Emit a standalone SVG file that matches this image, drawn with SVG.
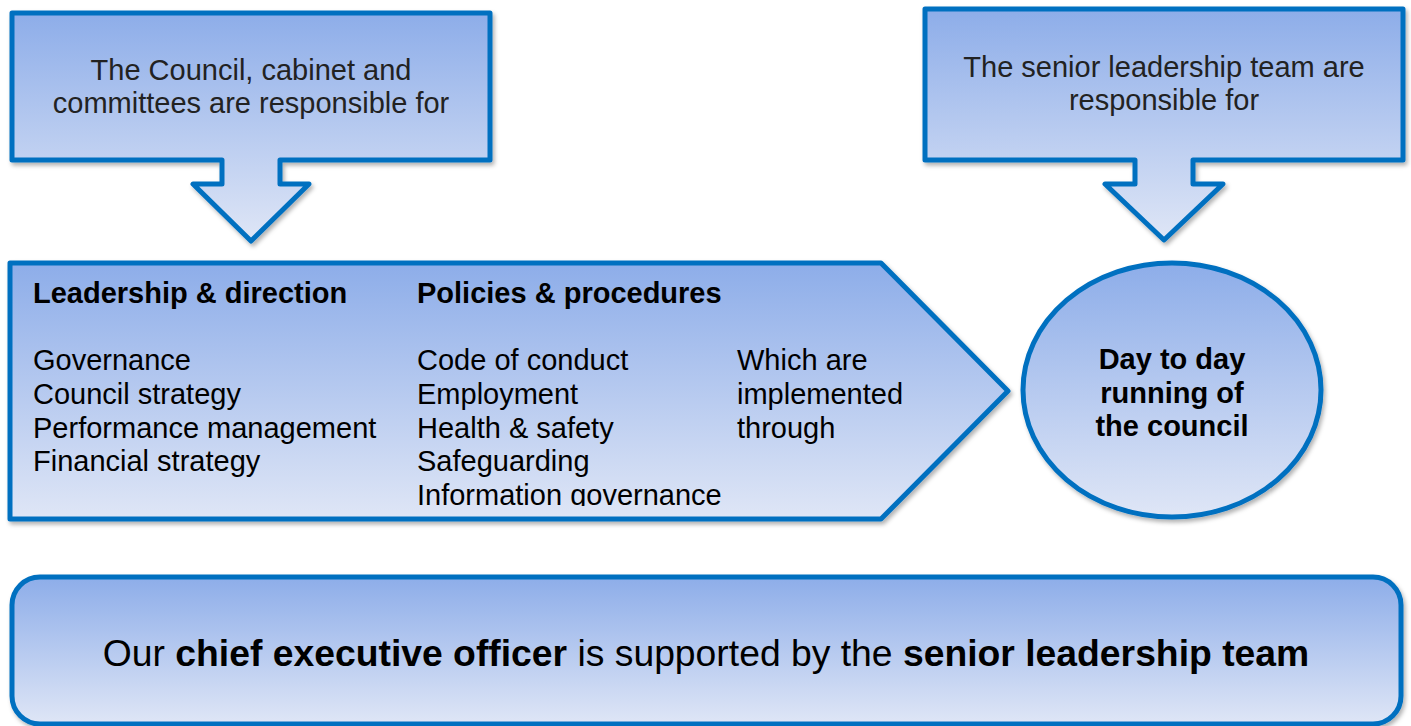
<svg xmlns="http://www.w3.org/2000/svg" width="1411" height="726" viewBox="0 0 1411 726">
  <defs>
    <linearGradient id="blueFill" x1="0" y1="0" x2="0" y2="1">
      <stop offset="0" stop-color="#8DADE9"/>
      <stop offset="1" stop-color="#DFE6F6"/>
    </linearGradient>
    <filter id="shadow" x="-5%" y="-5%" width="110%" height="115%">
      <feDropShadow dx="2" dy="3" stdDeviation="2" flood-color="#000" flood-opacity="0.3"/>
    </filter>
    <clipPath id="pentagonText">
      <rect x="10" y="263" width="1000" height="243"/>
    </clipPath>
  </defs>
  <style>
    .shape { fill: url(#blueFill); stroke: #0070C0; stroke-width: 5; stroke-linejoin: round; filter: url(#shadow); }
    .callout { font-family: "Liberation Sans", Arial, sans-serif; font-size: 29px; fill: #222; text-anchor: middle; }
    .body { font-family: "Liberation Sans", Arial, sans-serif; font-size: 29px; fill: #000; }
    .bold { font-weight: bold; }
    .centre { text-anchor: middle; }
  </style>

  <rect width="1411" height="726" fill="#fff"/>

  <!-- Council, cabinet and committees: box with a down arrow -->
  <g id="council-callout">
    <path class="shape" d="M12,13 H490 V160 H280 V184 H309 L251,241 L193,184 H222 V160 H12 Z"/>
    <text class="callout" x="251" y="80">The Council, cabinet and</text>
    <text class="callout" x="251" y="113">committees are responsible for</text>
  </g>

  <!-- Senior leadership team: box with a down arrow -->
  <g id="slt-callout">
    <path class="shape" d="M925,9 H1403 V160 H1193 V184 H1223 L1164,240 L1105,184 H1135 V160 H925 Z"/>
    <text class="callout" x="1164" y="77">The senior leadership team are</text>
    <text class="callout" x="1164" y="110">responsible for</text>
  </g>

  <!-- Pentagon arrow listing leadership and policy areas -->
  <g id="responsibilities">
    <path class="shape" d="M10,263 H881 L1008,391 L881,519 H10 Z"/>
    <g clip-path="url(#pentagonText)">
      <text class="body bold" x="33" y="303">Leadership &amp; direction</text>
      <text class="body" x="33" y="370">Governance</text>
      <text class="body" x="33" y="404">Council strategy</text>
      <text class="body" x="33" y="437.5">Performance management</text>
      <text class="body" x="33" y="471">Financial strategy</text>

      <text class="body bold" x="417" y="303">Policies &amp; procedures</text>
      <text class="body" x="417" y="370">Code of conduct</text>
      <text class="body" x="417" y="404">Employment</text>
      <text class="body" x="417" y="437.5">Health &amp; safety</text>
      <text class="body" x="417" y="471">Safeguarding</text>
      <text class="body" x="417" y="505">Information governance</text>

      <text class="body" x="737" y="370">Which are</text>
      <text class="body" x="737" y="404">implemented</text>
      <text class="body" x="737" y="437.5">through</text>
    </g>
  </g>

  <!-- Day to day running ellipse -->
  <g id="day-to-day">
    <ellipse class="shape" cx="1172" cy="390" rx="149" ry="127"/>
    <text class="body bold centre" x="1172" y="369">Day to day</text>
    <text class="body bold centre" x="1172" y="403">running of</text>
    <text class="body bold centre" x="1172" y="436">the council</text>
  </g>

  <!-- Chief executive banner -->
  <g id="ceo-banner">
    <rect class="shape" x="12" y="577" width="1389" height="147" rx="28" ry="28"/>
    <text class="body centre" x="706" y="666" style="font-size:37.3px">Our <tspan class="bold">chief executive officer</tspan> is supported by the <tspan class="bold">senior leadership team</tspan></text>
  </g>

  <!-- The arrows are drawn as part of the callout shapes -->
  <g id="connectors"/>
</svg>
